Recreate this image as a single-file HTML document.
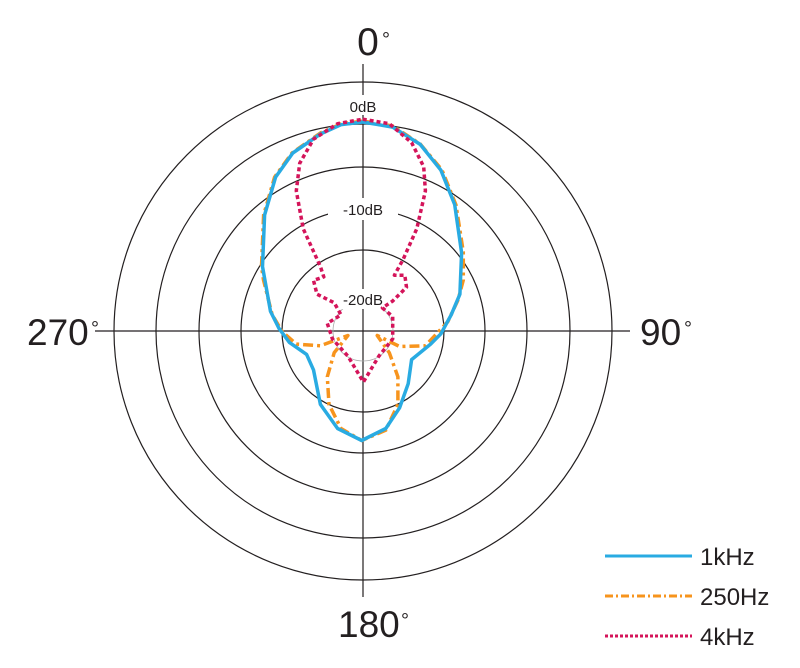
<!DOCTYPE html>
<html><head><meta charset="utf-8"><style>
html,body{margin:0;padding:0;background:#fff;}
svg{display:block;}
text{font-family:"Liberation Sans",sans-serif;fill:#231f20;}
</style></head><body>
<svg width="800" height="668" viewBox="0 0 800 668" xmlns="http://www.w3.org/2000/svg">
<g fill="none" stroke="#231f20" stroke-width="1.2">
<circle cx="363" cy="331" r="249"/>
<circle cx="363" cy="331" r="207"/>
<circle cx="363" cy="331" r="164"/>
<circle cx="363" cy="331" r="122"/>
<circle cx="363" cy="331" r="81"/>
<line x1="363" y1="64" x2="363" y2="597"/>
<line x1="95" y1="331" x2="630" y2="331"/>
</g>
<circle cx="363" cy="331" r="30" fill="none" stroke="#aaa" stroke-width="0.8"/>
<rect x="328" y="198" width="70" height="22" fill="#fff"/>
<rect x="333" y="289" width="60" height="20" fill="#fff"/>
<rect x="344" y="95" width="38" height="20" fill="#fff"/>
<text x="363" y="112" font-size="15" text-anchor="middle">0dB</text>
<text x="363" y="215" font-size="15" text-anchor="middle">-10dB</text>
<text x="363" y="305" font-size="15" text-anchor="middle">-20dB</text>
<text x="368" y="55" font-size="39" text-anchor="middle">0</text>
<text x="382" y="46" font-size="20">°</text>
<text x="27" y="345" font-size="37">270</text>
<text x="91" y="335" font-size="20">°</text>
<text x="640" y="345" font-size="37">90</text>
<text x="684" y="335" font-size="20">°</text>
<text x="338" y="637" font-size="37">180</text>
<text x="401" y="627" font-size="20">°</text>
<!-- orange 250Hz -->
<path fill="none" stroke="#f7941d" stroke-width="3.5" stroke-linejoin="round" stroke-dasharray="10,4,3,4" d="M362.7,121 L392.7,126 L420.2,144 L442,170 L456,205 L463.3,252 L463.3,280 L458,300 L447.8,321.7 L425.4,345.8 L399.6,346.5 L377.2,335.5 L389.3,352.7 L397.9,376.8 L397.9,404.4 L385.8,430.2 L361.7,440.5 L341,428.5 L329,404.4 L327.3,376.8 L334.2,352.7 L347.9,335.5 L320.4,345.8 L296.3,344.1 L282.5,332 L272.2,314.8 L263.5,280 L261.5,266.6 L263.6,215 L274.6,177.1 L292,153 L320.4,133 L341,124 Z"/>
<!-- blue 1kHz -->
<path fill="none" stroke="#29abe2" stroke-width="3.5" stroke-linejoin="round" d="M362.7,122 L392.7,127.1 L420.2,144.4 L440.9,170.2 L454.7,204.6 L461.6,252.8 L459.9,294.2 L451.2,314.8 L440.9,333.8 L430.6,344.1 L411.6,359.6 L408.2,383.7 L399.6,407.8 L385.8,428.5 L361.7,440.5 L337.6,428.5 L320.4,404.4 L313.5,369.9 L306.6,354.4 L289.4,342.4 L279.1,328.6 L270.5,311.4 L262.5,266.6 L264.6,215 L275.6,177.1 L292.8,153 L320.4,134 L341,124.7 Z"/>
<!-- pink 4kHz -->
<path fill="none" stroke="#d4145a" stroke-width="3.5" stroke-linejoin="round" stroke-dasharray="4,3" d="M362.7,119.2 L389.3,123.7 L411.6,142.6 L423.7,166.7 L425.4,190.9 L416.8,228.7 L403,259.7 L394.4,275.2 L404.8,275.2 L406.5,287.3 L392.7,301 L382.4,307.9 L392.7,316.5 L392.7,338.9 L378.9,356.1 L363.4,382 L347.9,356.1 L332.4,338.9 L327.3,323.4 L341,314.8 L334.2,302.8 L317,294.2 L313.5,280.4 L323.8,276.9 L320.4,266.6 L303.2,228.7 L296.3,190.9 L299.7,163.3 L313.5,139.2 L337.6,123.7 Z"/>
<!-- legend -->
<line x1="605" y1="556" x2="692" y2="556" stroke="#29abe2" stroke-width="3"/>
<line x1="605" y1="596" x2="692" y2="596" stroke="#f7941d" stroke-width="3" stroke-dasharray="8,3,2,3"/>
<line x1="605" y1="636" x2="692" y2="636" stroke="#d4145a" stroke-width="3" stroke-dasharray="3,2"/>
<text x="700" y="565" font-size="24">1kHz</text>
<text x="700" y="605" font-size="24">250Hz</text>
<text x="700" y="645" font-size="24">4kHz</text>
</svg>
</body></html>
